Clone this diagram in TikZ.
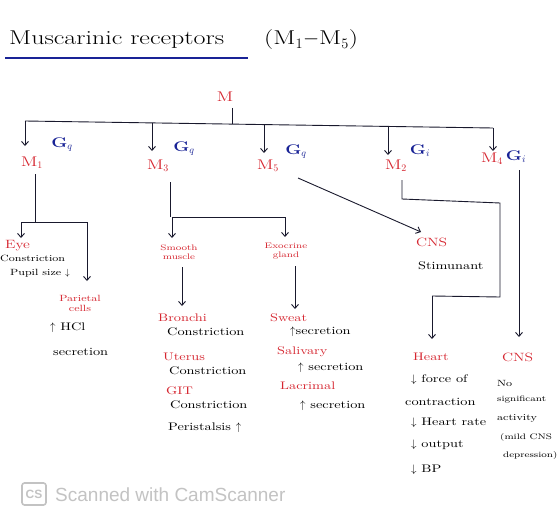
\documentclass[tikz,border=0pt]{standalone}
\usepackage{fontspec}
\usetikzlibrary{arrows.meta}
\newfontfamily\wmfont{Liberation Sans}
\newfontfamily\hand[FakeStretch=1.3]{Latin Modern Roman}
\definecolor{hred}{RGB}{214,38,48}
\definecolor{hblue}{RGB}{25,35,150}
\definecolor{ink}{RGB}{25,25,45}
\definecolor{wmgrey}{RGB}{195,195,195}
\tikzset{
  lbl/.style={inner sep=0pt, font=\hand\fontsize{11}{12}\selectfont, text=black, align=center, anchor=west},
  rtxt/.style={lbl, text=hred},
  small/.style={font=\hand\fontsize{8}{9}\selectfont},
  note/.style={font=\hand\fontsize{9}{10}\selectfont},
  tiny/.style={font=\hand\fontsize{8}{9}\selectfont},
  mlab/.style={inner sep=0pt, text=hred, font=\hand\fontsize{14}{15}\selectfont},
  glab/.style={inner sep=0pt, text=hblue, font=\hand\bfseries\fontsize{14}{15}\selectfont},
  conn/.style={draw=ink, line width=0.9pt},
  arr/.style={conn, -{Straight Barb[length=4pt,width=7pt]}},
}
\begin{document}
\begin{tikzpicture}[x=1pt,y=-1pt]
\useasboundingbox (0,0) rectangle (560,527);
\fill[white] (0,0) rectangle (560,527);
% title
\node[lbl, font=\hand\fontsize{20}{22}\selectfont] (title) at (9,40) {Muscarinic receptors};
\node[lbl, font=\hand\fontsize{20}{22}\selectfont] (title2) at (264,40) {(M$_1{-}$M$_5$)};
\coordinate (ulL) at (5,58);
\coordinate (ulR) at (248,58);
\draw[hblue, line width=1.3pt] (ulL) -- (ulR);
% root
\node[mlab] (M) at (225,97) {M};
\coordinate (Mt) at (232,108);
\coordinate (Mb) at (232,124);
\draw[conn] (Mt) -- (Mb);
\coordinate (b1) at (25,121);
\coordinate (b2) at (152,122.5);
\coordinate (b3) at (264,124);
\coordinate (b4) at (388,126.5);
\coordinate (b5) at (493,128);
\draw[conn] (b1) -- (b5);
\coordinate (e1) at (25,146);
\coordinate (e2) at (152,151);
\coordinate (e3) at (264,153);
\coordinate (e4) at (388,155);
\coordinate (e5) at (493,151);
\foreach \i in {1,...,5} \draw[arr] (b\i) -- (e\i);
% receptor labels
\node[mlab] (M1) at (32,163) {M$_1$};
\node[glab] (G1) at (62,145) {G$_q$};
\node[mlab] (M3) at (158,166) {M$_3$};
\node[glab] (G3) at (184,149) {G$_q$};
\node[mlab] (M5) at (268,166) {M$_5$};
\node[glab] (G5) at (296,152) {G$_q$};
\node[mlab] (M2) at (396,166) {M$_2$};
\node[glab] (G2) at (420,151) {G$_i$};
\node[mlab] (M4) at (492,159) {M$_4$};
\node[glab] (G4) at (516,157) {G$_i$};
% M1 branch
\coordinate (m1a) at (35,174);
\coordinate (m1b) at (35,222);
\coordinate (m1L) at (21,222);
\coordinate (m1R) at (87,222);
\coordinate (eyeT) at (21,238);
\coordinate (parT) at (87,281);
\draw[conn] (m1a) -- (m1b);
\draw[conn] (m1L) -- (m1R);
\draw[arr] (m1L) -- (eyeT);
\draw[arr] (m1R) -- (parT);
\node[rtxt, font=\hand\fontsize{12}{13}\selectfont] (eye) at (5,246) {Eye};
\node[lbl, note] (eye1) at (0,258) {Constriction};
\node[lbl, note] (eye2) at (10,273) {Pupil size $\downarrow$};
\node[rtxt, note, anchor=center] (par) at (80,303) {Parietal\\cells};
\node[lbl] (hcl) at (50,328) {$\uparrow$ HCl};
\node[lbl] (hcl2) at (53,352) {secretion};
% M3 branch
\coordinate (m3a) at (170,182);
\coordinate (m3b) at (170,217);
\coordinate (m3L) at (172,217);
\coordinate (m3R) at (285,217);
\coordinate (smT) at (172,238);
\coordinate (exT) at (285,237);
\draw[conn] (m3a) -- (m3b);
\draw[conn] (m3L) -- (m3R);
\draw[arr] (m3L) -- (smT);
\draw[arr] (m3R) -- (exT);
\node[rtxt, small, anchor=center] (sm) at (179,252) {Smooth\\muscle};
\node[rtxt, small, anchor=center] (ex) at (286,251) {Exocrine\\gland};
\coordinate (sm1) at (182,267);
\coordinate (sm2) at (182,306);
\coordinate (ex1) at (295,266);
\coordinate (ex2) at (295,309);
\draw[arr] (sm1) -- (sm2);
\draw[arr] (ex1) -- (ex2);
\node[rtxt] (bro) at (158,318) {Bronchi};
\node[lbl] (bro1) at (167,332) {Constriction};
\node[rtxt] (ut) at (163,357) {Uterus};
\node[lbl] (ut1) at (169,371) {Constriction};
\node[rtxt] (git) at (166,391) {GIT};
\node[lbl] (git1) at (170,405) {Constriction};
\node[lbl] (per) at (168,428) {Peristalsis $\uparrow$};
\node[rtxt] (sw) at (270,318) {Sweat};
\node[lbl] (sw1) at (290,332) {$\uparrow$secretion};
\node[rtxt] (sal) at (277,352) {Salivary};
\node[lbl] (sal1) at (298,368) {$\uparrow$ secretion};
\node[rtxt] (lac) at (280,386) {Lacrimal};
\node[lbl] (lac1) at (300,406) {$\uparrow$ secretion};
% M5 branch
\coordinate (m5a) at (298,178);
\coordinate (m5b) at (421,232);
\draw[arr] (m5a) -- (m5b);
\node[rtxt, font=\hand\fontsize{12}{13}\selectfont] (cns1) at (416,242) {CNS};
\node[lbl] (stim) at (418,266) {Stimunant};
% M2 branch
\coordinate (m2a) at (402,180);
\coordinate (m2b) at (402,199);
\coordinate (m2c) at (500,203);
\coordinate (m2d) at (500,297);
\coordinate (m2e) at (432,296);
\coordinate (m2f) at (432,339);
\draw[conn] (m2a) -- (m2b) -- (m2c) -- (m2d) -- (m2e);
\draw[arr] (m2e) -- (m2f);
\node[rtxt] (heart) at (413,357) {Heart};
\node[lbl] (h1) at (411,380) {$\downarrow$ force of};
\node[lbl] (h2) at (405,402) {contraction};
\node[lbl] (h3) at (411,423) {$\downarrow$ Heart rate};
\node[lbl] (h4) at (411,445) {$\downarrow$ output};
\node[lbl] (h5) at (411,470) {$\downarrow$ BP};
% M4 branch
\coordinate (m4a) at (519,170);
\coordinate (m4b) at (519,337);
\draw[arr] (m4a) -- (m4b);
\node[rtxt, font=\hand\fontsize{12}{13}\selectfont] (cns2) at (502,357) {CNS};
\node[lbl, note] (n1) at (497,383) {No};
\node[lbl, tiny] (n2) at (497,400) {significant};
\node[lbl, note] (n3) at (497,418) {activity};
\node[lbl, tiny] (n4) at (500,437) {(mild CNS};
\node[lbl, tiny] (n5) at (503,455) {depression)};
% watermark
\node[draw=wmgrey, fill=white, rounded corners=2.5pt, line width=1.6pt, inner sep=2.5pt, minimum width=24pt, minimum height=22pt, text=wmgrey, font=\wmfont\bfseries\fontsize{12}{12}\selectfont] (csicon) at (34,494) {CS};
\node[anchor=west, inner sep=0pt, text=wmgrey, font=\wmfont\fontsize{19}{20}\selectfont] (wm) at (55,495) {Scanned with CamScanner};
\end{tikzpicture}
\end{document}
